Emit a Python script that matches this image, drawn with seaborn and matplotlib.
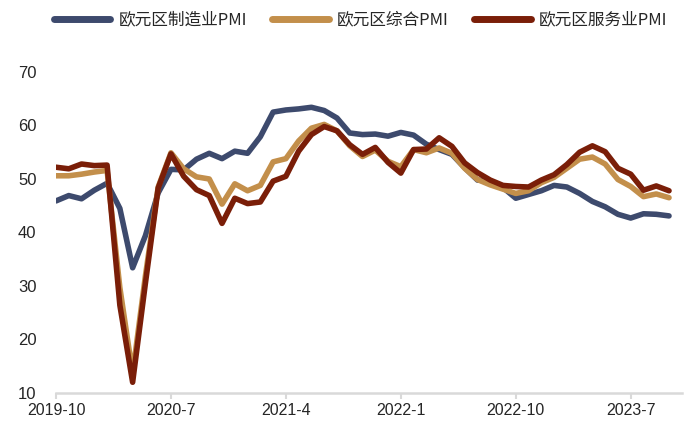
import matplotlib
matplotlib.use("Agg")
import matplotlib.pyplot as plt
import seaborn as sns
import pandas as pd
import numpy as np

months = pd.period_range("2019-10", "2023-10", freq="M").strftime("%Y-%-m").tolist()

manufacturing = [45.9, 46.9, 46.3, 47.9, 49.2, 44.5, 33.4, 39.4, 47.4, 51.8, 51.7, 53.7,
                 54.8, 53.8, 55.2, 54.8, 57.9, 62.5, 62.9, 63.1, 63.4, 62.8, 61.4, 58.6,
                 58.3, 58.4, 58.0, 58.7, 58.2, 56.5, 55.5, 54.6, 52.1, 49.8, 49.6, 48.4,
                 46.4, 47.1, 47.8, 48.8, 48.5, 47.3, 45.8, 44.8, 43.4, 42.7, 43.5, 43.4, 43.1]
composite = [50.6, 50.6, 50.9, 51.3, 51.6, 29.7, 13.6, 31.9, 48.5, 54.9, 51.9, 50.4,
             50.0, 45.3, 49.1, 47.8, 48.8, 53.2, 53.8, 57.1, 59.5, 60.2, 59.0, 56.2,
             54.2, 55.4, 53.3, 52.3, 55.5, 54.9, 55.8, 54.8, 52.0, 49.9, 48.9, 48.1,
             47.3, 47.8, 49.3, 50.3, 52.0, 53.7, 54.1, 52.8, 49.9, 48.6, 46.7, 47.2, 46.5]
services = [52.2, 51.9, 52.8, 52.5, 52.6, 26.4, 12.0, 30.5, 48.3, 54.7, 50.5, 48.0,
            46.9, 41.7, 46.4, 45.4, 45.7, 49.6, 50.5, 55.2, 58.3, 59.8, 59.0, 56.4,
            54.6, 55.9, 53.1, 51.1, 55.5, 55.6, 57.7, 56.1, 53.0, 51.2, 49.8, 48.8,
            48.6, 48.5, 49.8, 50.8, 52.7, 55.0, 56.2, 55.1, 52.0, 50.9, 47.9, 48.7, 47.8]

series_names = ["欧元区制造业PMI", "欧元区综合PMI", "欧元区服务业PMI"]
colors = ["#3d4a6d", "#c38f4b", "#7a1e08"]
tick_labels = ["2019-10", "2020-7", "2021-4", "2022-1", "2022-10", "2023-7"]

idx = np.arange(len(months))
df = pd.concat([
    pd.DataFrame({"idx": idx, "value": manufacturing, "series": series_names[0]}),
    pd.DataFrame({"idx": idx, "value": composite, "series": series_names[1]}),
    pd.DataFrame({"idx": idx, "value": services, "series": series_names[2]}),
])

sns.set_style("white")
plt.rcParams["font.family"] = ["Liberation Sans", "Noto Sans CJK SC", "DejaVu Sans"]

fig = plt.figure(figsize=(7, 4.43), dpi=100)
ax = fig.add_axes([0.08, 0.1129, 0.894, 0.7246])

sns.lineplot(data=df, x="idx", y="value", hue="series", hue_order=series_names,
             palette=colors, linewidth=4.0, ax=ax, legend=True)
for line in ax.get_lines():
    line.set_solid_joinstyle("round")
    line.set_solid_capstyle("round")

ax.set_xlim(0, 49)
ax.set_ylim(10, 70)
ax.set_yticks([10, 20, 30, 40, 50, 60, 70])
ax.set_yticklabels(["10", "20", "30", "40", "50", "60", "70"], fontsize=12)
tick_pos = [months.index(t) for t in tick_labels]
ax.set_xticks(tick_pos)
ax.set_xticklabels(tick_labels, fontsize=11.5)
ax.set_xlabel("")
ax.set_ylabel("")

for s in ["top", "right", "left"]:
    ax.spines[s].set_visible(False)
ax.spines["bottom"].set_color("#d9d9d9")
ax.spines["bottom"].set_linewidth(1.8)
ax.tick_params(axis="x", which="both", bottom=True, length=4, width=1.5, color="#d9d9d9",
               direction="out", pad=3)
ax.tick_params(axis="y", length=0, pad=14)

handles, labels = ax.get_legend_handles_labels()
for h in handles:
    h.set_linewidth(5)
    h.set_solid_capstyle("round")
leg = ax.legend(handles, labels, loc="center", ncol=3, frameon=False,
                handlelength=3.4, handletextpad=0.5, columnspacing=1.5,
                prop={"family": ["Noto Sans CJK SC", "DejaVu Sans"], "size": 12})
leg.set_bbox_to_anchor((0.515, 0.955), transform=fig.transFigure)

fig.savefig("out.png", dpi=100)
